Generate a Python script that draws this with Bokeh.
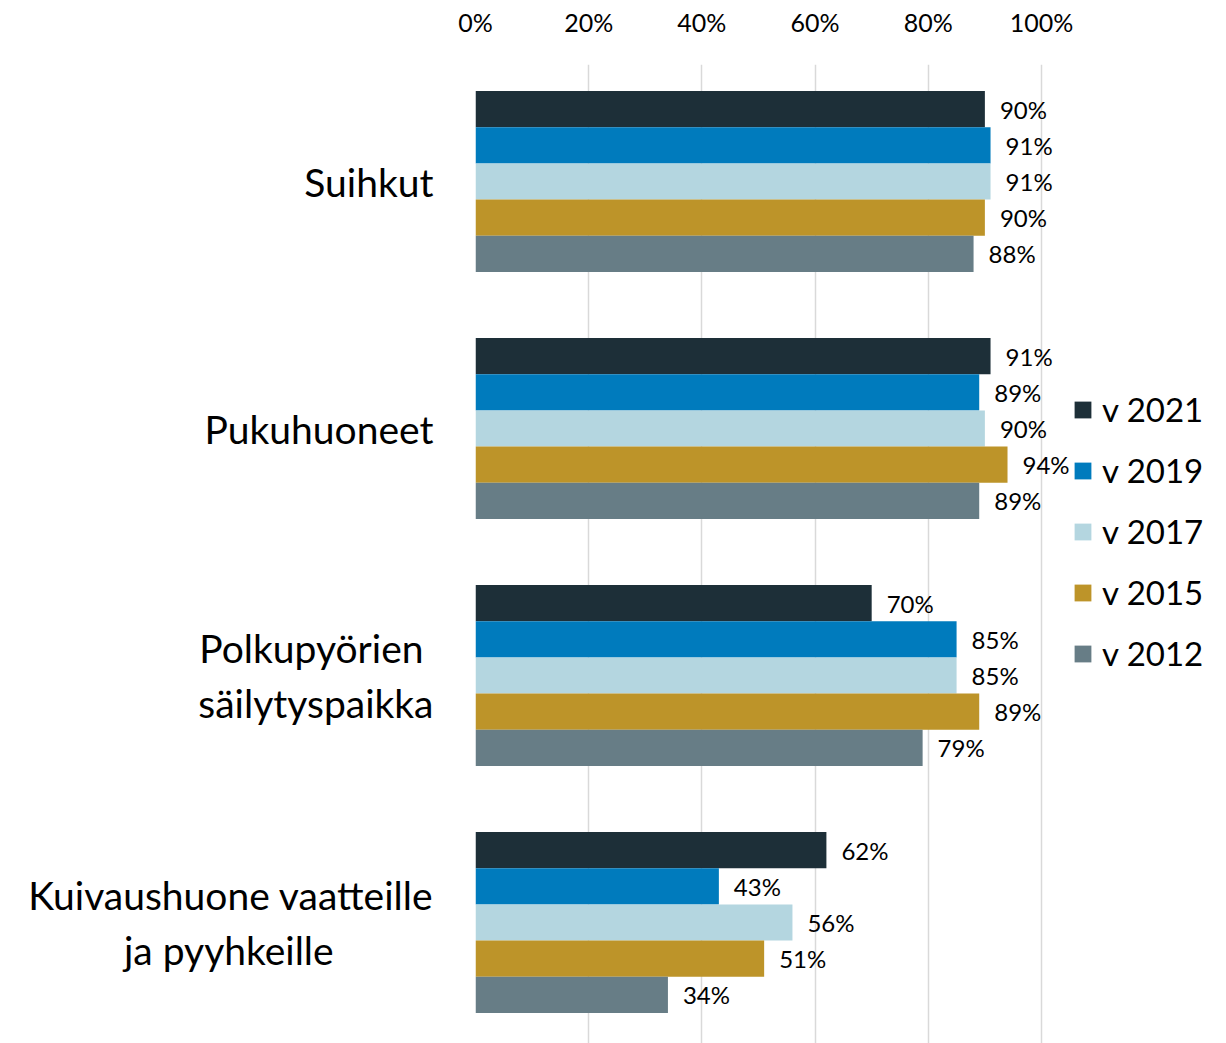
from bokeh.plotting import figure
from bokeh.models import Range1d, FixedTicker, ColumnDataSource, Legend, LegendItem
from bokeh.core.properties import value
from bokeh.embed import file_html
from bokeh.resources import INLINE

NB = "\u00a0"
categories = ["Suihkut", "Pukuhuoneet", "Polkupyörien" + NB + "\nsäilytyspaikka",
              "Kuivaushuone vaatteille\nja pyyhkeille" + NB * 10]
years = ["v 2021", "v 2019", "v 2017", "v 2015", "v 2012"]
v2021 = [90, 91, 70, 62]
v2019 = [91, 89, 85, 43]
v2017 = [91, 90, 85, 56]
v2015 = [90, 94, 89, 51]
v2012 = [88, 89, 79, 34]
series = [v2021, v2019, v2017, v2015, v2012]
colors = ["#1d2f38", "#007bbd", "#b4d6e0", "#bd9429", "#677d86"]
x_ticks = [0, 0.2, 0.4, 0.6, 0.8, 1.0]
x_tick_labels = ["0%", "20%", "40%", "60%", "80%", "100%"]

FONT = "Lato"
bar_h = 0.1466

p = figure(width=1226, height=1043, output_backend="svg", toolbar_location=None,
           x_range=Range1d(0, 1.3269), y_range=Range1d(3.4899, -0.4737),
           x_axis_location="above", min_border_left=475, min_border_top=64,
           min_border_bottom=0, min_border_right=0)
p.outline_line_color = None
p.background_fill_color = "white"

renderers = []
for k, (vals, col) in enumerate(zip(series, colors)):
    ys = [i + (k - 2) * bar_h for i in range(len(categories))]
    xs = [v / 100 for v in vals]
    src = ColumnDataSource(dict(y=ys, right=xs, lab=[f"{v}%" for v in vals]))
    r = p.hbar(y="y", left=0, right="right", height=bar_h, source=src,
               fill_color=col, line_color=None)
    p.text(x="right", y="y", text="lab", source=src, x_offset=15,
           text_baseline="middle", text_align="left", text_font=value(FONT),
           text_font_size="24px", text_color="#000000")
    renderers.append(r)

legend = Legend(items=[LegendItem(label=years[k], renderers=[renderers[k]]) for k in range(5)],
                location=(597, 370), orientation="vertical",
                glyph_width=21, glyph_height=21, label_height=40, spacing=21,
                padding=0, margin=0, label_standoff=9,
                label_text_font=FONT, label_text_font_size="33px",
                label_text_color="#000000",
                label_text_baseline="middle",
                border_line_color=None, background_fill_alpha=0)
p.add_layout(legend, "center")

xa = p.xaxis[0]
xa.ticker = FixedTicker(ticks=x_ticks)
xa.major_label_overrides = {t: l for t, l in zip(x_ticks, x_tick_labels)}
xa.axis_line_color = None
xa.major_tick_line_color = None
xa.minor_tick_line_color = None
xa.major_label_text_font = FONT
xa.major_label_text_font_size = "25px"
xa.major_label_text_color = "#000000"
xa.major_label_standoff = 22

ya = p.yaxis[0]
ya.ticker = FixedTicker(ticks=list(range(len(categories))))
ya.major_label_overrides = {i: c for i, c in enumerate(categories)}
ya.axis_line_color = None
ya.major_tick_line_color = None
ya.minor_tick_line_color = None
ya.major_label_text_font = FONT
ya.major_label_text_font_size = "39px"
ya.major_label_text_color = "#000000"
ya.major_label_standoff = 36
ya.major_label_text_align = "right"

p.xgrid.ticker = FixedTicker(ticks=x_ticks)
p.xgrid.grid_line_color = "#d9d9d9"
p.xgrid.grid_line_width = 1.5
p.ygrid.grid_line_color = None

open("out.html", "w").write(file_html(p, INLINE))
